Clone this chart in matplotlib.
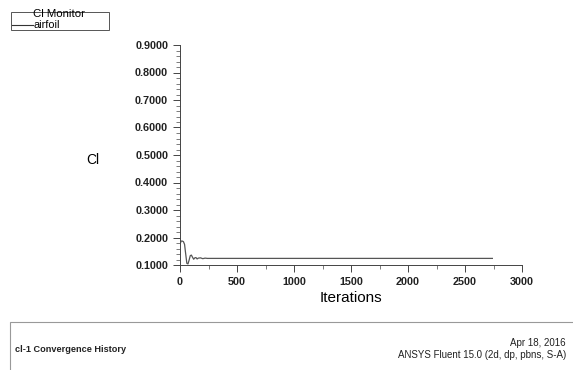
import matplotlib.pyplot as plt
from matplotlib.patches import Rectangle
from matplotlib.ticker import MultipleLocator

plt.rcParams['font.family'] = ['Liberation Sans', 'DejaVu Sans']

# Cl monitor history
iterations = [0, 10, 20, 30, 40, 50, 60, 70, 80, 90, 100, 110, 120, 130,
              140, 150, 160, 180, 200, 220, 240, 260, 2740]
cl = [0.175, 0.187, 0.187, 0.185, 0.175, 0.140, 0.106, 0.104, 0.118, 0.134,
      0.136, 0.128, 0.121, 0.126, 0.127, 0.122, 0.125, 0.126, 0.123, 0.125,
      0.124, 0.124, 0.124]

fig = plt.figure(figsize=(5.73, 3.70), dpi=100)
ax = fig.add_axes([180 / 573, 1 - 265 / 370, 342 / 573, 220 / 370])

ax.plot(iterations, cl, color='#555555', lw=0.9)

ax.set_xlim(0, 3000)
ax.set_ylim(0.1, 0.9)
ax.xaxis.set_major_locator(MultipleLocator(500))
ax.xaxis.set_minor_locator(MultipleLocator(250))
ax.yaxis.set_major_locator(MultipleLocator(0.1))
ax.yaxis.set_minor_locator(MultipleLocator(0.02))
ax.yaxis.set_major_formatter(lambda v, p: f'{v:.4f}')
ax.tick_params(which='major', length=5, width=0.7, labelsize=7.8,
               color='#444444', labelcolor='#222222')
ax.tick_params(which='minor', length=3, width=0.6, color='#666666')
for lab in ax.get_xticklabels() + ax.get_yticklabels():
    lab.set_fontweight('bold')
for s in ['top', 'right']:
    ax.spines[s].set_visible(False)
for s in ['left', 'bottom']:
    ax.spines[s].set_linewidth(0.7)
    ax.spines[s].set_color('#444444')

ax.set_xlabel('Iterations', fontsize=11, labelpad=3)
fig.text(93 / 573, 1 - 160 / 370, 'Cl', fontsize=10, ha='center', va='center')

# legend box
fig.patches.append(Rectangle((11 / 573, 1 - 30 / 370), 98 / 573, 18 / 370,
                             transform=fig.transFigure, fill=False,
                             edgecolor='#555555', lw=0.7))
fig.text(59 / 573, 1 - 14 / 370, 'Cl Monitor', fontsize=8.2, ha='center',
         va='center')
fig.add_artist(plt.Line2D([12 / 573, 33 / 573], [1 - 25 / 370, 1 - 25 / 370],
                          transform=fig.transFigure, color='#333333', lw=0.8))
fig.text(33 / 573, 1 - 25.5 / 370, 'airfoil', fontsize=7.8, ha='left',
         va='center')

# footer box
fig.patches.append(Rectangle((10 / 573, -0.01), 0.99, 52 / 370,
                             transform=fig.transFigure, fill=False,
                             edgecolor='#999999', lw=0.8))
fig.text(15 / 573, 1 - 349 / 370, 'cl-1 Convergence History', fontsize=6.6,
         fontweight='bold', ha='left', va='center', color='#222222')
fig.text(566 / 573, 1 - 343 / 370, 'Apr 18, 2016', fontsize=7,
         ha='right', va='center', color='#222222')
fig.text(566 / 573, 1 - 355 / 370, 'ANSYS Fluent 15.0 (2d, dp, pbns, S-A)',
         fontsize=7, ha='right', va='center', color='#222222')

fig.savefig('out.png', dpi=100)
